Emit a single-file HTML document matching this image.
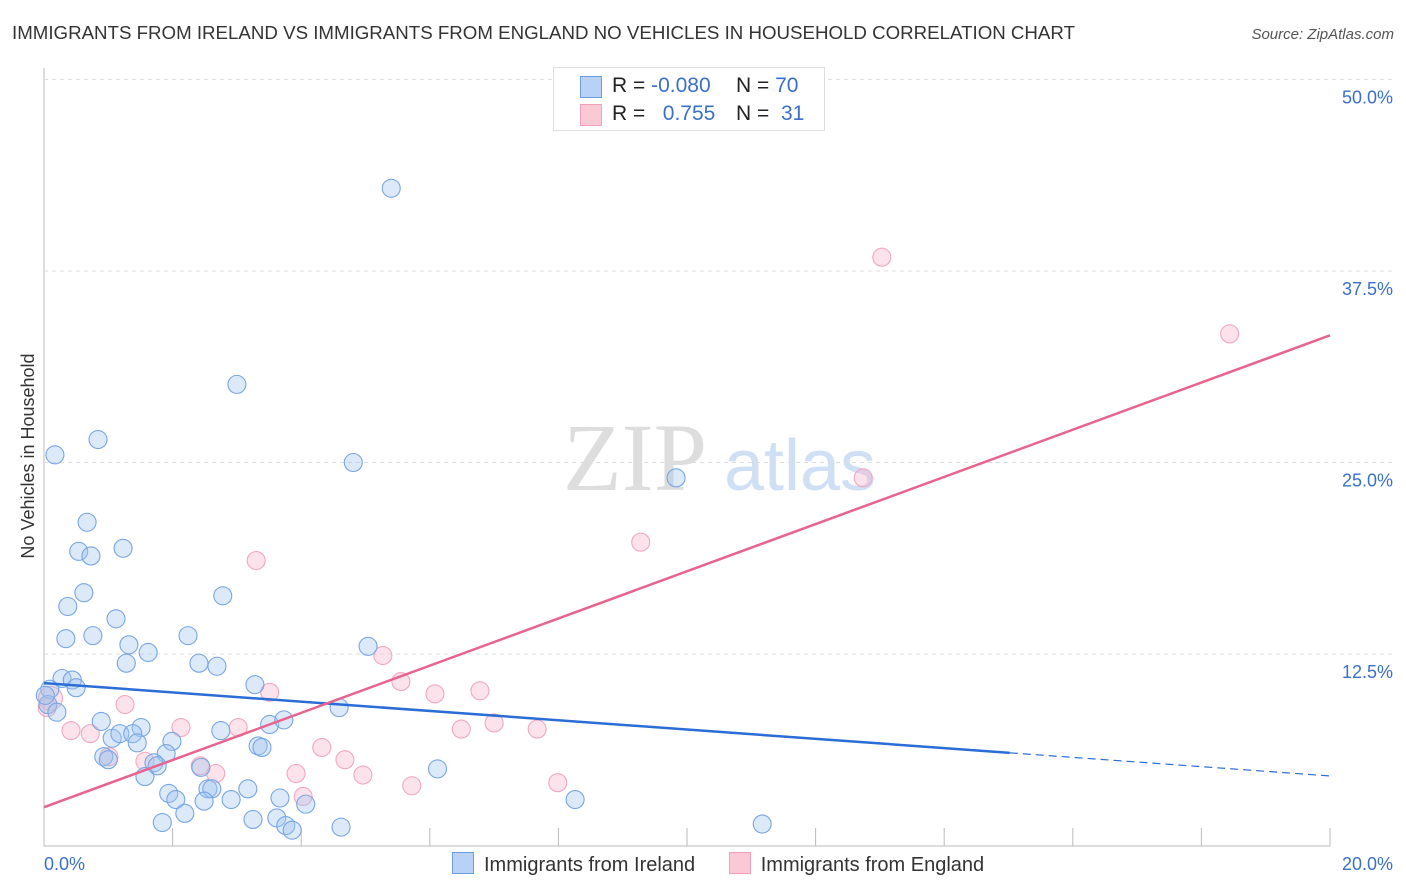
<!DOCTYPE html>
<html><head><meta charset="utf-8">
<style>
body{margin:0;background:#fff;font-family:"Liberation Sans",sans-serif;}
#wrap{position:relative;width:1406px;height:892px;overflow:hidden;}
</style></head>
<body>
<div id="wrap">
<svg id="svg" width="1406" height="892" xmlns="http://www.w3.org/2000/svg">
<text x="12" y="39" font-size="18" fill="#333" textLength="1063" lengthAdjust="spacingAndGlyphs">IMMIGRANTS FROM IRELAND VS IMMIGRANTS FROM ENGLAND NO VEHICLES IN HOUSEHOLD CORRELATION CHART</text>
<text x="1394" y="39" font-size="15" fill="#555" font-style="italic" text-anchor="end">Source: ZipAtlas.com</text>
<text x="34" y="456" font-size="18" fill="#333" text-anchor="middle" transform="rotate(-90 34 456)">No Vehicles in Household</text>
<g><text x="635" y="490" font-size="96" fill="#ddd" font-family="Liberation Serif,serif" text-anchor="middle">ZIP</text><text x="800" y="490" font-size="72" fill="#cfe0f5" text-anchor="middle">atlas</text></g>
<g id="grid"></g><g id="marks"></g>
</svg>
<div style="position:absolute;left:553px;top:67px;width:270px;height:62px;border:1px solid #ddd;background:#fff;font-size:21px;">
 <div style="position:absolute;left:26px;top:8px;width:20px;height:20px;background:#b8d2f5;border:1px solid #6a9de0;"></div>
 <div style="position:absolute;left:58px;top:6px;color:#222">R = <span style="color:#3a70cc">-0.080</span></div>
 <div style="position:absolute;left:182px;top:6px;color:#222">N = <span style="color:#3a70cc">70</span></div>
 <div style="position:absolute;left:26px;top:36px;width:20px;height:20px;background:#fbc8d6;border:1px solid #f0a0b8;"></div>
 <div style="position:absolute;left:58px;top:34px;color:#222">R = &nbsp;&nbsp;<span style="color:#3a70cc">0.755</span></div>
 <div style="position:absolute;left:182px;top:34px;color:#222">N = &nbsp;<span style="color:#3a70cc">31</span></div>
</div>
<div style="position:absolute;left:452px;top:852px;font-size:20px;color:#333;">
 <span style="display:inline-block;width:20px;height:20px;background:#b8d2f5;border:1px solid #6a9de0;vertical-align:-3px;margin-right:10px"></span>Immigrants from Ireland
 <span style="display:inline-block;width:20px;height:20px;background:#fbc8d6;border:1px solid #f0a0b8;vertical-align:-3px;margin:0 10px 0 28px"></span>Immigrants from England
</div>
</div>
<script>
const yTicks=[12.5,25,37.5,50];
const yTickLabels=["12.5%","25.0%","37.5%","50.0%"];
const xTicks=[0,2,4,6,8,10,12,14,16,18,20];
const irelandX=[5.40,3.00,0.17,0.84,4.81,9.83,0.67,0.54,0.73,1.23,0.62,2.78,0.37,1.12,0.34,0.76,1.32,2.24,1.62,1.28,2.41,2.69,5.04,0.28,0.44,0.50,3.28,0.09,0.06,0.20,4.59,0.89,1.51,3.51,3.73,2.75,1.06,1.18,1.38,1.45,1.99,3.33,3.39,0.93,1.00,1.90,1.71,1.76,2.44,6.12,1.57,1.94,2.05,2.55,2.61,3.17,2.49,2.91,3.67,4.07,2.19,3.25,1.84,3.62,3.76,3.86,4.62,8.26,11.17,0.02];
const irelandY=[42.9,30.1,25.5,26.5,25.0,24.0,21.1,19.2,18.9,19.4,16.5,16.3,15.6,14.8,13.5,13.7,13.1,13.7,12.6,11.9,11.9,11.7,13.0,10.9,10.8,10.3,10.5,10.2,9.2,8.7,9.0,8.1,7.7,7.9,8.2,7.5,7.0,7.3,7.3,6.7,6.8,6.5,6.4,5.8,5.6,6.0,5.4,5.2,5.1,5.0,4.5,3.4,3.0,3.7,3.7,3.7,2.9,3.0,3.1,2.7,2.1,1.7,1.5,1.8,1.3,1.0,1.2,3.0,1.4,9.8];
const englandX=[13.03,18.44,12.74,9.28,3.30,5.27,5.55,3.51,6.08,6.78,1.26,7.00,6.49,7.67,2.13,3.02,0.42,0.72,4.32,4.68,1.01,1.57,2.43,2.67,3.92,4.96,7.99,5.72,4.03,0.10,0.05];
const englandY=[38.4,33.4,24.0,19.8,18.6,12.4,10.7,10.0,9.9,10.1,9.2,8.0,7.6,7.6,7.7,7.7,7.5,7.3,6.4,5.6,5.8,5.5,5.2,4.7,4.7,4.6,4.1,3.9,3.2,9.6,9.0];
const irelandTrend=[10.6,4.54]; const irelandSolidEnd=15.02;
const englandTrend=[2.5,33.3];
const X=v=>44+v*64.3, Y=v=>845.5-v*15.32;
const NS="http://www.w3.org/2000/svg";
function mk(t,a,p){const e=document.createElementNS(NS,t);for(const k in a)e.setAttribute(k,a[k]);p.appendChild(e);return e;}
const g=document.getElementById('grid'), m=document.getElementById('marks');
let e=mk('line',{x1:44,y1:68,x2:44,y2:846,stroke:'#bbb'},g);

e=mk('line',{x1:44,y1:846,x2:1330,y2:846,stroke:'#bbb'},g);

yTicks.forEach((t,i)=>{
 let l=mk('line',{x1:44,x2:1394,y1:Y(t),y2:Y(t),stroke:'#ddd','stroke-dasharray':'4,4'},g);
 
 let tx=mk('text',{x:1393,y:Y(t)+24,'font-size':18,fill:'#3a70cc','text-anchor':'end'},g);tx.textContent=yTickLabels[i];
 
});
xTicks.forEach(t=>{
 let l=mk('line',{x1:X(t),x2:X(t),y1:828,y2:846,stroke:'#bbb'},g);
 
});
let xl=mk('text',{x:44,y:870,'font-size':18,fill:'#3a70cc'},g);xl.textContent='0.0%';

xl=mk('text',{x:1393,y:870,'font-size':18,fill:'#3a70cc','text-anchor':'end'},g);xl.textContent='20.0%';

englandX.forEach((x,i)=>{
 const c=mk('circle',{cx:X(x),cy:Y(englandY[i]),r:i==29?12:9,fill:'rgba(248,180,200,0.38)',stroke:'#f2a8bf','stroke-width':1.1},m);
 
});
irelandX.forEach((x,i)=>{
 const c=mk('circle',{cx:X(x),cy:Y(irelandY[i]),r:9,fill:'rgba(160,196,240,0.38)',stroke:'#78a6e4','stroke-width':1.1},m);
 
});
const by=x=>irelandTrend[0]+(irelandTrend[1]-irelandTrend[0])*x/20;
let tl=mk('line',{x1:X(0),y1:Y(by(0)),x2:X(irelandSolidEnd),y2:Y(by(irelandSolidEnd)),stroke:'#2a6dd6','stroke-width':2.5},m);

tl=mk('line',{x1:X(irelandSolidEnd),y1:Y(by(irelandSolidEnd)),x2:X(20),y2:Y(by(20)),stroke:'#2a6dd6','stroke-width':1.2,'stroke-dasharray':'8,5'},m);

tl=mk('line',{x1:X(0),y1:Y(englandTrend[0]),x2:X(20),y2:Y(englandTrend[1]),stroke:'#e8648e','stroke-width':2.5},m);

</script>
</body></html>
